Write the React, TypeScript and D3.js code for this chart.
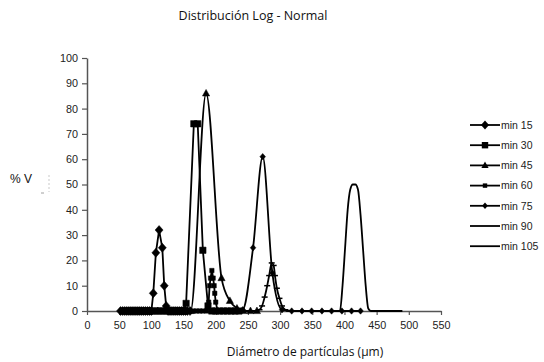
import React, { useEffect, useRef } from 'react';
import * as d3 from 'd3';

// diameters (µm) and %V for every series
const min15X = [52, 55, 58, 61, 64, 67, 70, 73, 76, 79, 82, 85, 88, 91, 94, 97, 100, 103, 107, 112, 117, 120, 123, 126, 129, 132, 135, 138, 141, 144, 147, 150, 153, 156, 160];
const min15Y = [0, 0, 0, 0, 0, 0, 0, 0, 0, 0, 0, 0, 0, 0, 0, 0, 0, 7, 23, 32, 25, 10, 2, 0, 0, 0, 0, 0, 0, 0, 0, 0, 0, 0, 0];

const min30X = [60, 65, 70, 75, 80, 85, 90, 95, 100, 105, 110, 115, 120, 125, 130, 135, 140, 145, 150, 154, 166, 172, 180, 188, 194, 200, 206, 212, 218, 224, 230, 236];
const min30Y = [0, 0, 0, 0, 0, 0, 0, 0, 0, 0, 0, 0, 0, 0, 0, 0, 0, 0, 0, 3, 74, 74, 24, 2, 0, 0, 0, 0, 0, 0, 0, 0];

const min45X = [110, 125, 140, 150, 161, 185, 209, 222, 233, 243, 254, 264];
const min45Y = [0, 0, 0, 0, 0, 86, 13, 4, 1, 0, 0, 0];

const min60X = [150, 155, 160, 165, 170, 175, 180, 186, 189, 190.5, 192, 194, 196, 197.5, 198.5, 200, 203, 208, 213, 218, 223, 228, 233, 238];
const min60Y = [0, 0, 0, 0, 0, 0, 0, 0, 3.5, 10, 13, 16, 13, 10, 7, 3.5, 0, 0, 0, 0, 0, 0, 0, 0];

const min75X = [227, 242, 258, 273, 288, 303, 318, 334, 349, 365, 380, 396, 411, 425];
const min75Y = [0, 0.5, 25, 61, 15, 0.5, 0, 0, 0, 0, 0, 0, 0, 0];

const min90X = [262, 268, 272, 276, 280, 283, 287, 290, 292, 295, 299, 303, 308, 314];
const min90Y = [0, 0.5, 2, 5.5, 10, 14, 19, 18, 14, 9, 5, 2, 0.5, 0];

const min105X = [385, 393, 397, 401, 405, 409, 413, 417, 421, 425, 429, 433, 437, 441, 460, 490];
const min105Y = [0, 0, 10, 25, 40, 48, 50, 50, 48, 38, 24, 10, 1, 0, 0, 0];

const xTicks = [0, 50, 100, 150, 200, 250, 300, 350, 400, 450, 500, 550];
const yTicks = [0, 10, 20, 30, 40, 50, 60, 70, 80, 90, 100];

type Marker = 'diamond' | 'square' | 'triangle' | 'smallSquare' | 'smallDiamond' | 'dash' | 'none';

const series: { name: string; xs: number[]; ys: number[]; marker: Marker; smooth: boolean }[] = [
  { name: 'min 15', xs: min15X, ys: min15Y, marker: 'diamond', smooth: false },
  { name: 'min 30', xs: min30X, ys: min30Y, marker: 'square', smooth: false },
  { name: 'min 45', xs: min45X, ys: min45Y, marker: 'triangle', smooth: true },
  { name: 'min 60', xs: min60X, ys: min60Y, marker: 'smallSquare', smooth: false },
  { name: 'min 75', xs: min75X, ys: min75Y, marker: 'smallDiamond', smooth: true },
  { name: 'min 90', xs: min90X, ys: min90Y, marker: 'dash', smooth: true },
  { name: 'min 105', xs: min105X, ys: min105Y, marker: 'none', smooth: true },
];

const markerPath = (m: Marker): string | null => {
  switch (m) {
    case 'diamond': return 'M0,-4.5L4,0L0,4.5L-4,0Z';
    case 'square': return 'M-3.2,-3.2H3.2V3.2H-3.2Z';
    case 'triangle': return 'M0,-4L3.6,2.6H-3.6Z';
    case 'smallSquare': return 'M-2.2,-2.2H2.2V2.2H-2.2Z';
    case 'smallDiamond': return 'M0,-3.2L2.8,0L0,3.2L-2.8,0Z';
    case 'dash': return 'M-3,0H3';
    default: return null;
  }
};

const App: React.FC = () => {
  const gRef = useRef<SVGGElement>(null);

  const margin = { left: 87, right: 441, top: 58, bottom: 311 };
  const x = d3.scaleLinear().domain([0, 550]).range([margin.left, margin.right]);
  const y = d3.scaleLinear().domain([0, 100]).range([margin.bottom, margin.top]);

  useEffect(() => {
    const svg = d3.select(gRef.current);
    svg.selectAll('*').remove();

    const axisColor = '#555';
    const tickFont = '"Liberation Sans", Arial, sans-serif';

    const gx = svg.append('g')
      .attr('transform', `translate(0,${margin.bottom})`)
      .call(d3.axisBottom(x).tickValues(xTicks).tickSize(4).tickSizeOuter(0).tickPadding(6));
    const gy = svg.append('g')
      .attr('transform', `translate(${margin.left},0)`)
      .call(d3.axisLeft(y).tickValues(yTicks).tickSize(5).tickSizeOuter(0).tickPadding(4));
    [gx, gy].forEach(g => {
      g.select('.domain').attr('stroke', axisColor).attr('stroke-width', 1.5);
      g.selectAll('.tick line').attr('stroke', axisColor).attr('stroke-width', 1.2);
      g.selectAll('.tick text').attr('fill', '#222').attr('font-size', 10.8).attr('font-family', tickFont);
    });

    const plot = svg.append('g');
    series.forEach(s => {
      const pts = s.xs.map((v, i) => [v, s.ys[i]] as [number, number]);
      const line = d3.line<[number, number]>()
        .x(d => x(d[0]))
        .y(d => y(d[1]))
        .curve(s.smooth ? d3.curveMonotoneX : d3.curveLinear);
      plot.append('path')
        .attr('d', line(pts))
        .attr('fill', 'none')
        .attr('stroke', '#000')
        .attr('stroke-width', 1.8);
      const mp = markerPath(s.marker);
      if (mp) {
        plot.selectAll(null)
          .data(pts)
          .enter().append('path')
          .attr('d', mp)
          .attr('transform', d => `translate(${x(d[0])},${y(d[1])})`)
          .attr('fill', '#000')
          .attr('stroke', '#000')
          .attr('stroke-width', s.marker === 'dash' ? 1.5 : 0.5);
      }
    });

    // legend
    const lg = svg.append('g');
    series.forEach((s, i) => {
      const ly = 125 + i * 20.2;
      lg.append('line')
        .attr('x1', 470).attr('x2', 500).attr('y1', ly).attr('y2', ly)
        .attr('stroke', '#000').attr('stroke-width', 1.8);
      const mp = markerPath(s.marker);
      if (mp && s.marker !== 'dash') {
        lg.append('path').attr('d', mp).attr('transform', `translate(485,${ly})`).attr('fill', '#000');
      }
      lg.append('text')
        .attr('x', 501).attr('y', ly + 3.8)
        .attr('font-size', 10.5).attr('font-family', tickFont).attr('fill', '#222')
        .text(s.name);
    });
  }, []);

  return (
    <div style={{ position: 'absolute', left: 0, top: 0 }}>
      <svg width={544} height={362} style={{ display: 'block', background: '#fff' }}>
        <text x={253} y={20} textAnchor="middle" fontSize={12.5} fontFamily='"Open Sans", sans-serif' fill="#111">
          Distribución Log - Normal
        </text>
        <text x={305} y={356} textAnchor="middle" fontSize={12} fontFamily='"Open Sans", sans-serif' fill="#111">
          Diámetro de partículas (µm)
        </text>
        <text x={10} y={183} fontSize={12} fontFamily='"Liberation Sans", Arial, sans-serif' fill="#111">% V</text>
        <line x1={49} x2={49} y1={175} y2={192} stroke="#bbb" strokeWidth={0.8} strokeDasharray="2,2" />
        <line x1={41} x2={44} y1={193} y2={193} stroke="#888" strokeWidth={0.8} />
        <g ref={gRef} />
      </svg>
    </div>
  );
};

export default App;
